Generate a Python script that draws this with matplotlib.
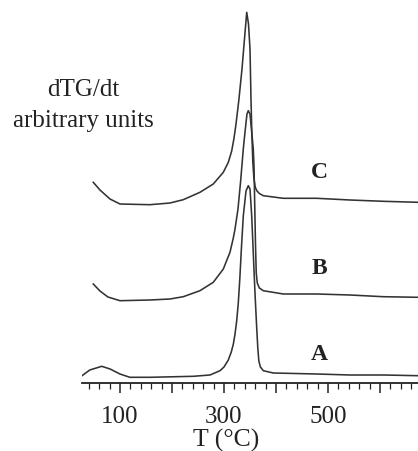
import matplotlib
matplotlib.use("Agg")
import matplotlib.pyplot as plt
from matplotlib.ticker import MultipleLocator

# dTG/dt curves (arbitrary units, stacked per sample)
temp_a = [27, 42, 65, 81, 100, 119, 157.7, 241, 273, 292.3, 300, 308.3, 314, 318, 321.2, 324.4,
          327.5, 330.5, 333.5, 337.1, 342.3, 346.7, 350, 353.3, 356.7, 359.6, 362.9, 365, 367, 370,
          375.6, 394.8, 478.3, 542.3, 606.3, 673]
dtg_a = [7.3, 13, 16.7, 14, 9, 5.7, 5.7, 6.7, 8, 12.3, 16, 23, 31, 39, 49, 62,
         80, 105, 135, 167, 192, 197.3, 194, 167, 125, 90, 55, 35, 22, 16,
         12.3, 10, 9, 8, 8, 7.3]

temp_b = [48.7, 61.5, 76.9, 100, 157.7, 196.2, 221.7, 253.8, 279.4, 298.7, 311.5, 317.9, 321.2,
          326.9, 332, 337.1, 340.4, 344.2, 346.7, 350, 353.3, 356.3, 357.7, 359, 360.5, 362, 364,
          368, 375.6, 414, 478.3, 542.3, 606.3, 673]
dtg_b = [99, 92, 86, 82.3, 83, 84, 86.3, 92.3, 100.7, 114, 130.7, 145, 154,
         174, 202, 234, 251, 269, 272.3, 269, 251, 234, 217, 180, 140, 110, 100,
         95, 92.3, 89, 89, 88, 86.3, 85.7]

temp_c = [48.7, 61.5, 80.8, 100, 157.7, 196.2, 221.7, 253.8, 279.4, 298.7, 308.3, 314.8, 319,
          323.1, 328.8, 334.6, 339.4, 343.7, 347.1, 350, 351.9, 353.5, 355.5, 357.5, 360, 363, 368,
          375.6, 414, 478.3, 542.3, 606.3, 673]
dtg_c = [200.7, 193, 184, 179, 178.3, 180, 183.3, 190.7, 199, 210.7, 220.7, 232, 244,
         259, 284, 314, 344, 370.7, 359, 334, 284, 250, 220, 205, 196, 192.3, 189.5,
         187.3, 184.7, 184.7, 183, 181.7, 180.7]

sample_names = ["A", "B", "C"]
label_temps = [483, 483, 483]
label_levels = [29, 116, 211]
tick_labels = {100: "100", 300: "300", 500: "500"}

plt.rcParams["font.family"] = ["Liberation Serif", "DejaVu Serif"]

fig = plt.figure(figsize=(4.18, 4.52), dpi=100)
ax = fig.add_axes([82 / 418, 68 / 452, 336 / 418, 384 / 452])

line_color = "#333333"
for t, d in [(temp_a, dtg_a), (temp_b, dtg_b), (temp_c, dtg_c)]:
    ax.plot(t, d, color=line_color, linewidth=1.15, solid_joinstyle="round")

for name, t, lvl in zip(sample_names, label_temps, label_levels):
    ax.text(t, lvl, name, fontsize=17, fontweight="bold", ha="center", va="center", color="#222222")

ax.set_xlim(27, 673)
ax.set_ylim(0, 384)

for side in ["left", "right", "top"]:
    ax.spines[side].set_visible(False)
ax.spines["bottom"].set_linewidth(1.3)
ax.spines["bottom"].set_color("#222222")
ax.set_yticks([])

ax.xaxis.set_major_locator(MultipleLocator(100))
ax.xaxis.set_minor_locator(MultipleLocator(20))
ax.set_xticklabels([tick_labels.get(int(v), "") for v in ax.get_xticks()])
ax.tick_params(axis="x", which="major", direction="out", length=7, width=1.1,
               labelsize=18, pad=9, colors="#222222")
ax.tick_params(axis="x", which="minor", direction="out", length=4.3, width=0.9, colors="#222222")

ax.set_xlabel("T (°C)", fontsize=18.5, color="#222222")
ax.xaxis.set_label_coords((226 - 82) / 336, -(440 - 384) / 384)
ax.xaxis.label.set_va("center")

fig.text(83 / 418, 1 - 90 / 452, "dTG/dt", fontsize=18, ha="center", va="center", color="#222222")
fig.text(83 / 418, 1 - 121 / 452, "arbitrary units", fontsize=18, ha="center", va="center", color="#222222")

fig.savefig("out.png", dpi=100)
